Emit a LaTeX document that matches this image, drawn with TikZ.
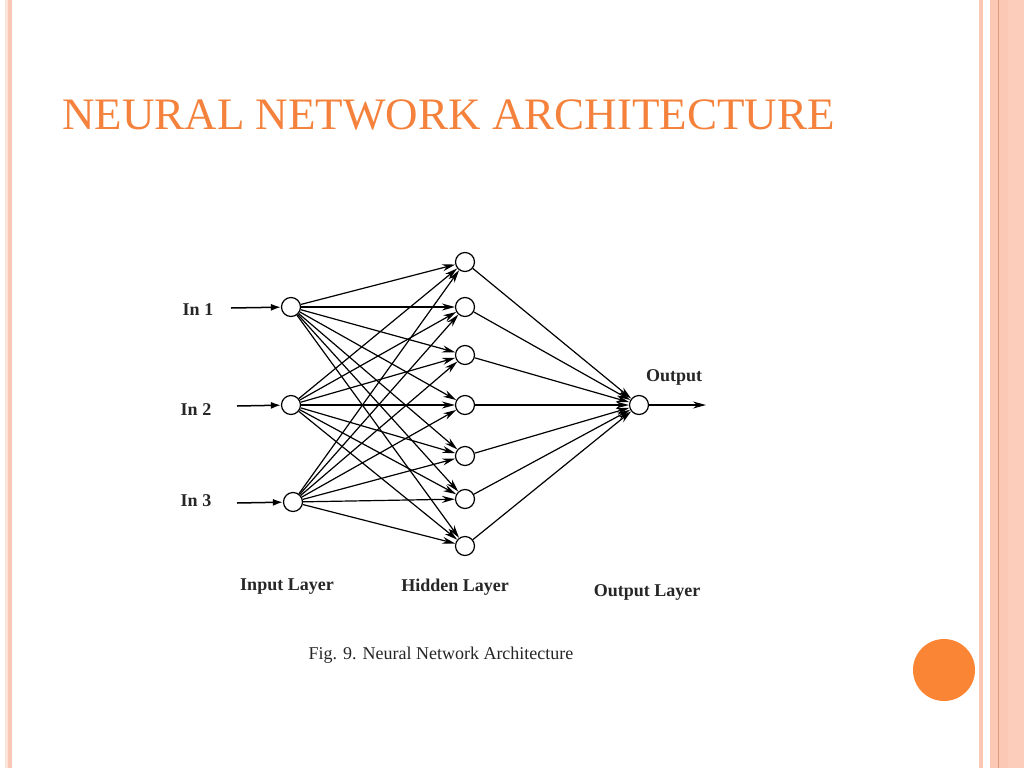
\documentclass[tikz,border=0pt]{standalone}
\usepackage{fontspec}
\setmainfont{Liberation Serif}
\usetikzlibrary{arrows.meta}
\definecolor{ttl}{HTML}{F5823C}
\definecolor{dot}{HTML}{FA8535}
\definecolor{stripe}{HTML}{FBC8B6}
\definecolor{stripeb}{HTML}{FCCDBB}
\definecolor{stripeline}{HTML}{E49A7A}
\definecolor{pale}{HTML}{FBE4D8}
\tikzset{
  neuron/.style={circle,draw,line width=1.2pt,minimum size=19pt,inner sep=0pt,fill=white},
  conn/.style={line width=1.2pt,-{Stealth[length=13pt,width=7pt]}},
  inarrow/.style={line width=1.5pt,-{Latex[length=10pt,width=7pt]}},
  lbl/.style={font=\fontsize{18}{20}\selectfont\bfseries,text=black!85},
}
\begin{document}
\begin{tikzpicture}[x=1pt,y=-1pt]
\useasboundingbox (0,0) rectangle (1024,768);
\fill[white] (0,0) rectangle (1024,768);
% borders
\fill[pale] (5,0) rectangle (8,768);
\fill[stripe] (8,0) rectangle (12,768);
\fill[stripe] (979,0) rectangle (983,768);
\fill[stripe] (990,0) rectangle (1008,768);
\fill[stripeb] (1008,0) rectangle (1024,768);
\draw[stripeline,line width=0.8pt] (998,0) -- (998,768);
% title
\node[anchor=base west,text=ttl,font=\fontsize{45}{50}\selectfont,xscale=1.0,transform shape,inner sep=0pt] (title) at (62,129) {NEURAL NETWORK ARCHITECTURE};
% orange dot
\fill[dot] (944,670) circle (31);
% nodes
\node[neuron] (i1) at (291,307) {};
\node[neuron] (i2) at (291,405) {};
\node[neuron] (i3) at (293,502) {};
\foreach \n/\y in {1/262,2/307,3/355,4/405,5/456,6/499,7/546}
  \node[neuron] (h\n) at (465,\y) {};
\node[neuron] (o) at (639,405) {};
% input labels
\node[lbl] (l1) at (198,310) {In 1};
\node[lbl] (l2) at (196,410) {In 2};
\node[lbl] (l3) at (196,501) {In 3};
\coordinate (s1) at (231,308);
\coordinate (s2) at (237,406);
\coordinate (s3) at (237,503);
\draw[inarrow] (s1) -- (i1);
\draw[inarrow] (s2) -- (i2);
\draw[inarrow] (s3) -- (i3);
% connections
\foreach \i in {1,2,3}
  \foreach \h in {1,...,7}
    \draw[conn] (i\i) -- (h\h);
\foreach \h in {1,...,7}
  \draw[conn] (h\h) -- (o);
\coordinate (oe) at (706,405);
\draw[conn] (o) -- (oe);
\node[lbl] (ol) at (674,377) {Output};
% layer labels
\node[lbl] (il) at (287,587) {Input Layer};
\node[lbl] (hl) at (455,587) {Hidden Layer};
\node[lbl] (oll) at (647,592) {Output Layer};
\node[font=\fontsize{18}{20}\selectfont,text=black!85] (cap) at (441,655) {Fig. 9. Neural Network Architecture};
\end{tikzpicture}
\end{document}
